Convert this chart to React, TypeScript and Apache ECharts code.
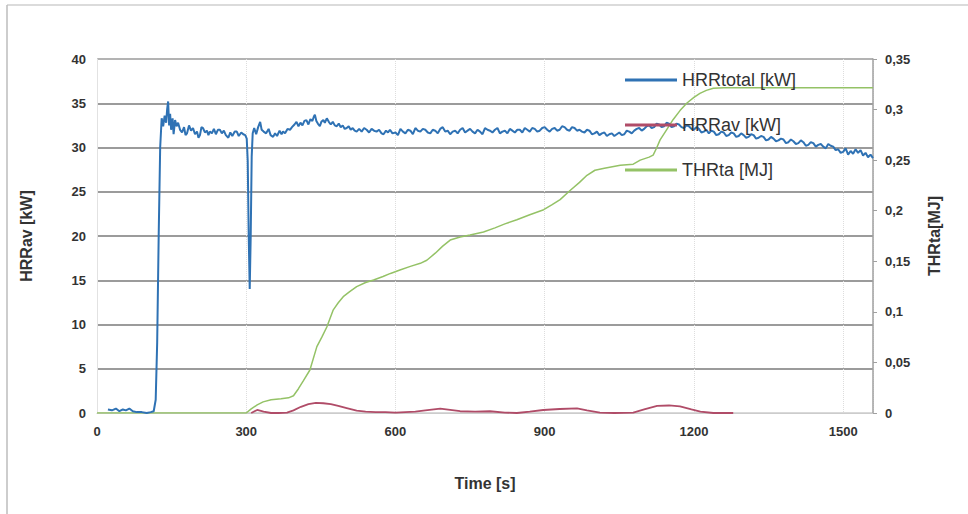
import React, { useEffect, useRef } from "react";
import * as echarts from "echarts";

// HRRtotal [kW]: [time s, value]
const hrrTotal: [number, number][] = [
  [22, 0.4], [30, 0.3], [38, 0.5], [45, 0.2], [52, 0.4], [58, 0.3], [65, 0.5], [72, 0.2], [80, 0.1], [90, 0.1],
  [100, 0.0], [108, 0.1], [114, 0.2], [118, 1.5], [121, 8], [124, 20], [127, 30], [130, 33.3], [133, 32.4],
  [136, 33.6], [139, 32.8], [141, 34.3], [143, 35.2], [145, 32.5], [147, 33.8], [149, 32.0], [152, 33.3],
  [154, 31.5], [157, 33.1], [160, 32.4], [163, 32.8], [167, 32.0], [171, 31.7], [175, 32.3], [178, 31.4],
  [181, 31.6], [185, 32.5], [189, 31.9], [193, 32.2], [197, 31.5], [201, 31.8], [204, 31.1], [207, 31.4],
  [210, 32.3], [213, 32.2], [217, 31.7], [221, 31.9], [224, 31.4], [227, 31.8], [231, 31.6], [235, 32.1],
  [239, 31.5], [243, 32.0], [247, 32.0], [251, 31.6], [255, 31.9], [259, 31.4], [264, 31.1], [268, 31.7],
  [272, 31.3], [277, 31.8], [281, 31.8], [285, 31.3], [290, 31.7], [294, 31.5], [298, 31.4], [301, 31.0],
  [303, 28.5], [305, 20], [307, 14.0], [309, 20], [311, 29], [313, 31.6], [316, 32.2], [320, 31.5],
  [324, 32.3], [328, 32.9], [331, 32.0], [335, 31.8], [340, 31.6], [345, 32.1], [349, 31.4], [354, 31.2],
  [358, 31.6], [362, 31.3], [367, 31.9], [371, 31.5], [374, 31.8], [378, 31.6], [383, 32.1], [388, 32.0],
  [392, 32.3], [397, 32.6], [401, 32.9], [405, 32.4], [409, 32.8], [413, 32.5], [417, 33.0], [421, 33.1],
  [425, 32.6], [429, 33.2], [433, 33.0], [436, 33.5], [438, 33.7], [441, 33.0], [444, 32.7], [448, 32.4],
  [451, 32.9], [455, 33.1], [458, 32.8], [462, 33.3], [466, 32.9], [470, 32.6], [474, 32.9], [478, 32.5],
  [482, 32.4], [486, 32.7], [490, 32.3], [494, 32.5], [498, 32.1], [502, 32.2], [506, 32.4], [510, 32.0],
  [514, 32.2], [518, 31.9], [522, 31.8], [527, 32.1], [532, 31.8], [537, 32.2], [542, 32.0], [547, 31.7],
  [552, 32.1], [557, 31.9], [562, 31.8], [567, 32.0], [572, 31.6], [576, 31.5], [581, 31.9], [585, 31.7],
  [589, 32.0], [594, 31.6], [600, 31.7], [605, 31.4], [610, 32.1], [615, 31.8], [620, 31.6], [625, 32.0],
  [630, 31.9], [635, 31.5], [640, 32.2], [645, 31.9], [650, 31.8], [655, 32.1], [660, 32.0], [665, 31.7],
  [670, 31.6], [675, 32.0], [680, 31.9], [685, 31.6], [690, 32.1], [695, 32.3], [700, 31.8], [705, 31.9],
  [710, 31.5], [715, 31.8], [720, 31.9], [725, 31.6], [730, 32.0], [735, 32.2], [740, 31.7], [745, 31.9],
  [750, 32.1], [755, 31.8], [760, 31.6], [765, 32.0], [770, 31.8], [775, 31.5], [780, 32.2], [785, 32.0],
  [790, 31.9], [795, 31.7], [800, 32.0], [805, 32.2], [810, 31.6], [815, 31.8], [820, 31.9], [825, 31.6],
  [830, 32.1], [835, 31.9], [840, 31.7], [845, 32.0], [850, 32.0], [855, 31.7], [860, 32.2], [865, 32.0],
  [870, 31.8], [875, 32.2], [880, 32.1], [885, 31.8], [890, 31.9], [895, 32.2], [900, 32.3], [905, 32.0],
  [910, 31.8], [915, 32.1], [920, 32.2], [925, 31.9], [930, 32.0], [935, 32.4], [940, 32.3], [945, 32.0],
  [950, 31.9], [955, 32.3], [960, 32.2], [965, 31.9], [970, 32.0], [975, 31.8], [980, 31.7], [985, 32.0],
  [990, 31.9], [995, 31.5], [1000, 31.6], [1005, 31.8], [1010, 31.4], [1015, 31.6], [1020, 31.7],
  [1025, 31.3], [1030, 31.5], [1035, 31.6], [1040, 31.3], [1045, 31.5], [1050, 31.7], [1055, 31.4],
  [1060, 31.5], [1065, 31.9], [1070, 31.8], [1075, 31.6], [1080, 31.9], [1085, 32.1], [1090, 32.2],
  [1095, 31.9], [1100, 32.1], [1105, 32.4], [1110, 32.5], [1115, 32.2], [1120, 32.3], [1125, 32.7],
  [1130, 32.6], [1135, 32.3], [1140, 32.4], [1145, 32.8], [1150, 32.7], [1155, 32.3], [1160, 32.4],
  [1165, 32.7], [1170, 32.6], [1175, 32.3], [1180, 32.2], [1185, 32.5], [1190, 32.4], [1195, 32.1],
  [1200, 32.0], [1205, 32.3], [1210, 32.1], [1215, 31.7], [1220, 31.8], [1225, 32.0], [1230, 31.6],
  [1235, 31.9], [1240, 31.8], [1245, 31.4], [1250, 31.5], [1255, 31.8], [1260, 31.7], [1265, 31.3],
  [1270, 31.4], [1275, 31.7], [1280, 31.6], [1285, 31.2], [1290, 31.3], [1295, 31.6], [1300, 31.4],
  [1305, 31.1], [1310, 31.2], [1315, 31.5], [1320, 31.4], [1325, 31.0], [1330, 31.1], [1335, 31.3],
  [1340, 31.2], [1345, 30.8], [1350, 30.9], [1355, 31.2], [1360, 31.0], [1365, 30.7], [1370, 30.8],
  [1375, 31.0], [1380, 30.9], [1385, 30.5], [1390, 30.6], [1395, 30.9], [1400, 30.7], [1405, 30.4],
  [1410, 30.5], [1415, 30.8], [1420, 30.6], [1425, 30.2], [1430, 30.3], [1435, 30.6], [1440, 30.5],
  [1445, 30.1], [1450, 30.3], [1455, 30.4], [1460, 30.1], [1465, 29.9], [1470, 30.4], [1475, 30.2],
  [1480, 30.1], [1485, 29.7], [1490, 29.8], [1495, 29.4], [1500, 29.5], [1505, 29.9], [1510, 29.2],
  [1515, 29.6], [1520, 29.3], [1525, 29.8], [1530, 29.4], [1535, 29.7], [1540, 29.1], [1545, 29.4],
  [1550, 28.9], [1555, 29.2], [1560, 28.8],
];

// HRRav [kW]
const hrrAv: [number, number][] = [
  [310, 0.0], [322, 0.34], [335, 0.15], [350, 0.0], [365, 0.0], [382, 0.05], [395, 0.3], [410, 0.7],
  [425, 1.0], [440, 1.15], [455, 1.1], [470, 1.0], [485, 0.8], [502, 0.55], [522, 0.26], [540, 0.15],
  [560, 0.1], [580, 0.1], [600, 0.05], [620, 0.1], [640, 0.15], [660, 0.3], [690, 0.5], [710, 0.35],
  [730, 0.2], [760, 0.15], [790, 0.2], [820, 0.05], [844, 0.0], [870, 0.15], [897, 0.34], [930, 0.45],
  [965, 0.53], [985, 0.3], [1011, 0.05], [1040, 0.0], [1078, 0.05], [1100, 0.4], [1126, 0.8],
  [1150, 0.85], [1172, 0.75], [1195, 0.4], [1213, 0.15], [1239, 0.0], [1279, 0.0],
];

// THRta [MJ]
const thrTa: [number, number][] = [
  [0, 0], [300, 0], [310, 0.004], [322, 0.008], [334, 0.011], [350, 0.013], [370, 0.014], [385, 0.015],
  [395, 0.017], [405, 0.024], [415, 0.032], [428, 0.0425], [442, 0.0656], [452, 0.075], [462, 0.085],
  [475, 0.102], [485, 0.109], [495, 0.115], [508, 0.12], [522, 0.125], [540, 0.129], [556, 0.1315],
  [575, 0.135], [590, 0.138], [609, 0.1414], [630, 0.145], [650, 0.148], [663, 0.151], [680, 0.158],
  [695, 0.165], [710, 0.171], [730, 0.174], [750, 0.176], [777, 0.179], [800, 0.183], [820, 0.187],
  [844, 0.191], [870, 0.196], [898, 0.201], [915, 0.206], [931, 0.211], [951, 0.22], [970, 0.228],
  [985, 0.235], [1001, 0.24], [1020, 0.242], [1052, 0.245], [1078, 0.246], [1092, 0.25], [1110, 0.253],
  [1118, 0.255], [1125, 0.262], [1132, 0.27], [1145, 0.28], [1158, 0.29], [1172, 0.299], [1186, 0.3065],
  [1200, 0.312], [1212, 0.316], [1225, 0.319], [1239, 0.321], [1260, 0.3215], [1560, 0.3215],
];

const seriesNames = ["HRRtotal [kW]", "HRRav [kW]", "THRta [MJ]"];
const seriesColors = ["#2f72b4", "#b04c68", "#94c266"];
const xTitle = "Time [s]";
const yLeftTitle = "HRRav [kW]";
const yRightTitle = "THRta[MJ]";

const FONT = "Liberation Sans, Arial, sans-serif";
const TXT = "#333333";

export default function App() {
  const ref = useRef<HTMLDivElement>(null);
  useEffect(() => {
    document.body.style.margin = "0";
    const chart = echarts.init(ref.current!, null, { renderer: "svg" });
    chart.setOption({
      animation: false,
      backgroundColor: "#ffffff",
      textStyle: { fontFamily: FONT },
      grid: { left: 97, right: 95, top: 59, bottom: 101 },
      legend: {
        orient: "vertical",
        left: 620,
        top: 66,
        icon: "rect",
        itemWidth: 52,
        itemHeight: 3,
        itemGap: 27,
        textStyle: { fontSize: 18, color: TXT, fontFamily: FONT },
        data: seriesNames,
      },
      graphic: [
        { type: "line", shape: { x1: 7, y1: 5, x2: 968, y2: 5 }, style: { stroke: "#cfcfcf", lineWidth: 1.5 } },
        { type: "line", shape: { x1: 7, y1: 5, x2: 7, y2: 514 }, style: { stroke: "#bdbdbd", lineWidth: 1.5 } },
      ],
      xAxis: {
        type: "value",
        min: 0,
        max: 1560,
        interval: 300,
        name: xTitle,
        nameLocation: "middle",
        nameGap: 62,
        nameTextStyle: { fontSize: 16, fontWeight: "bold", color: TXT, fontFamily: FONT },
        axisLine: { show: true, lineStyle: { color: "#cccccc", width: 1 } },
        axisTick: { show: false },
        axisLabel: {
          fontSize: 13,
          fontWeight: "bold",
          color: TXT,
          margin: 12,
          showMaxLabel: false,
          formatter: (v: number) => String(v),
        },
        splitLine: { show: true, lineStyle: { color: "#dddddd", type: "dotted", width: 1 } },
      },
      yAxis: [
        {
          type: "value",
          min: 0,
          max: 40,
          interval: 5,
          name: yLeftTitle,
          nameLocation: "middle",
          nameRotate: 90,
          nameGap: 63,
          nameTextStyle: { fontSize: 16, fontWeight: "bold", color: TXT, fontFamily: FONT },
          axisLine: { show: true, lineStyle: { color: "#e2e2e2" } },
          axisTick: { show: false },
          axisLabel: { fontSize: 13, fontWeight: "bold", color: TXT, margin: 11 },
          splitLine: {
            show: true,
            lineStyle: {
              color: ["#cccccc", "#7a7a7a", "#7a7a7a", "#7a7a7a", "#7a7a7a", "#7a7a7a", "#7a7a7a", "#7a7a7a", "#9a9a9a"],
              width: 1.5,
            },
          },
        },
        {
          type: "value",
          min: 0,
          max: 0.35,
          interval: 0.05,
          position: "right",
          name: yRightTitle,
          nameLocation: "middle",
          nameRotate: 90,
          nameGap: 53,
          nameTextStyle: { fontSize: 16, fontWeight: "bold", color: TXT, fontFamily: FONT },
          axisLine: { show: true, lineStyle: { color: "#a0a0a0", width: 1.5 } },
          axisTick: { show: true, inside: false, length: 4, lineStyle: { color: "#a0a0a0" } },
          axisLabel: {
            fontSize: 13,
            fontWeight: "bold",
            color: TXT,
            margin: 12,
            formatter: (v: number) => String(Math.round(v * 100) / 100).replace(".", ","),
          },
          splitLine: { show: false },
        },
      ],
      series: [
        {
          name: seriesNames[0],
          type: "line",
          data: hrrTotal,
          yAxisIndex: 0,
          symbol: "none",
          color: seriesColors[0],
          lineStyle: { color: seriesColors[0], width: 2 },
          z: 3,
        },
        {
          name: seriesNames[1],
          type: "line",
          data: hrrAv,
          yAxisIndex: 0,
          symbol: "none",
          color: seriesColors[1],
          lineStyle: { color: seriesColors[1], width: 1.8 },
          z: 4,
        },
        {
          name: seriesNames[2],
          type: "line",
          data: thrTa,
          yAxisIndex: 1,
          symbol: "none",
          color: seriesColors[2],
          lineStyle: { color: seriesColors[2], width: 1.5 },
          z: 2,
        },
      ],
    });
    return () => chart.dispose();
  }, []);
  return <div ref={ref} style={{ width: 968, height: 514 }} />;
}
